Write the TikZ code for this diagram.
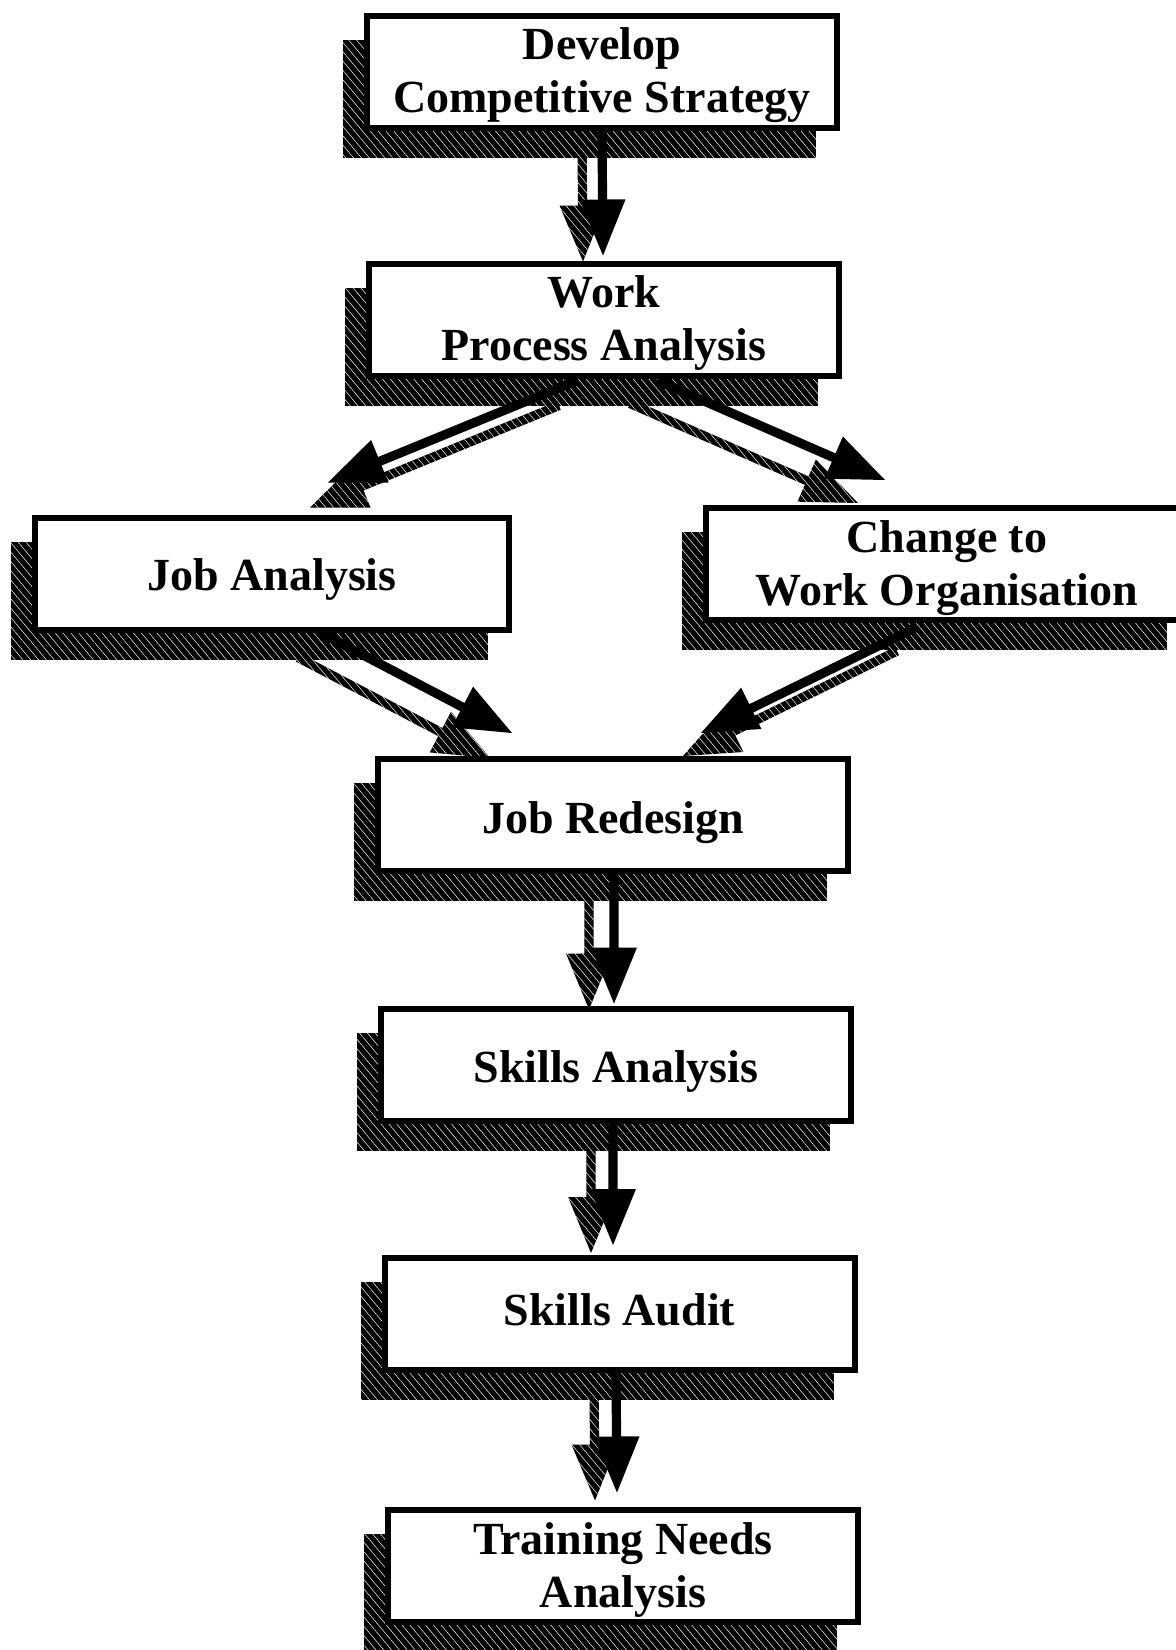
\documentclass[tikz,border=0pt]{standalone}
\usepackage{fontspec}
\setmainfont{Liberation Serif}
\usetikzlibrary{calc,patterns.meta}
\pgfdeclarelayer{shadowlayer}
\pgfdeclarelayer{arrowlayer}
\pgfsetlayers{shadowlayer,arrowlayer,main}

\tikzset{
  box/.style={draw=black, line width=3pt, fill=white, minimum width=235pt,
    minimum height=56pt, inner sep=0pt, align=center,
    font=\fontsize{23}{26.5}\selectfont\bfseries},
  shadefill/.style={fill=black, postaction={pattern={Lines[angle=-50,distance=3pt,line width=0.25pt]}, pattern color=white}},
  arrowfill/.style={fill=black},
}

\newcommand{\boxtext}[2][-3pt]{\raisebox{#1}[\height][\depth]{\begin{tabular}{@{}c@{}}#2\end{tabular}}}

\newcommand{\arrowbody}[2]{%
  \coordinate (#1-b) at ($(#1-t)!28pt!(#1-s)$);
  \path[#2] ($(#1-s)!2.3pt!90:(#1-t)$) -- ($(#1-b)!2.3pt!90:(#1-t)$)
    -- ($(#1-b)!11.5pt!90:(#1-t)$) -- (#1-t) -- ($(#1-b)!11.5pt!-90:(#1-t)$)
    -- ($(#1-b)!2.3pt!-90:(#1-t)$) -- ($(#1-s)!2.3pt!-90:(#1-t)$) -- cycle;
}
\newcommand{\flowarrow}[3]{%
  \coordinate (ma-s) at #1;
  \coordinate (ma-t) at #2;
  \coordinate (sa-s) at ($(ma-s)+#3$);
  \coordinate (sa-t) at ($(ma-t)+#3$);
  \arrowbody{sa}{shadefill}
  \arrowbody{ma}{arrowfill}
}
\newcommand{\boxshadow}[1]{%
  \fill[shadefill] ($(#1.north west)+(-21,27)$) rectangle ($(#1.south east)+(-24,27)$);
}

\begin{document}
\begin{tikzpicture}[x=0.5pt,y=-0.5pt]
\useasboundingbox (0,0) rectangle (1176,1650);

\node[box] (dev) at (602,71.5) {\boxtext[-2pt]{Develop\\Competitive Strategy}};
\node[box] (wpa) at (604,319.5) {\boxtext[-2pt]{Work\\Process Analysis}};
\node[box, minimum width=237pt] (ja) at (272,573.5) {\boxtext{Job Analysis}};
\node[box, minimum width=241pt] (chg) at (947,564) {\boxtext[-2pt]{Change to\\Work Organisation}};
\node[box] (jr) at (613,815) {\boxtext[-4pt]{Job Redesign}};
\node[box] (sa) at (616,1064.5) {\boxtext[-3.5pt]{Skills Analysis}};
\node[box] (sau) at (619.5,1314) {\boxtext[-0.5pt]{Skills Audit}};
\node[box] (tna) at (623,1565.5) {\boxtext[-2.5pt]{Training Needs\\Analysis}};

\begin{pgfonlayer}{shadowlayer}
  \boxshadow{dev}
  \boxshadow{wpa}
  \boxshadow{ja}
  \boxshadow{chg}
  \boxshadow{jr}
  \boxshadow{sa}
  \boxshadow{sau}
  \boxshadow{tna}
\end{pgfonlayer}

\begin{pgfonlayer}{arrowlayer}
  \flowarrow{($(dev.south)+(0,0)$)}{($(wpa.north)+(-1,-5)$)}{(-20,6)}
  \flowarrow{($(wpa.south)+(-27,2)$)}{($(ja.north)+(56,-32)$)}{(-18,25)}
  \flowarrow{($(wpa.south)+(53,2)$)}{($(chg.north)+(-62,-25)$)}{(-27,23)}
  \flowarrow{($(ja.south)+(48,0)$)}{($(jr.north)+(-101,-23)$)}{(-22,25)}
  \flowarrow{($(chg.south)+(-32,5)$)}{($(jr.north)+(88,-23)$)}{(-18,23)}
  \flowarrow{($(jr.south)+(1,0)$)}{($(sa.north)+(-2,-2)$)}{(-25,6)}
  \flowarrow{($(sa.south)+(-3,0)$)}{($(sau.north)+(-6.5,-10)$)}{(-22,8)}
  \flowarrow{($(sau.south)+(-3.5,0)$)}{($(tna.north)+(-6,-14)$)}{(-22,8)}
\end{pgfonlayer}
\end{tikzpicture}
\end{document}
